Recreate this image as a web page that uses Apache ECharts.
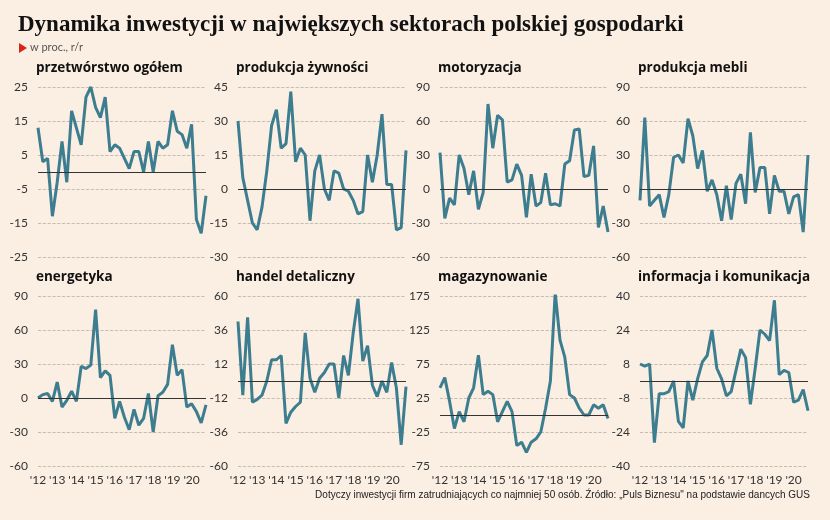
<!DOCTYPE html>
<html>
<head>
<meta charset="utf-8">
<title>Dynamika inwestycji</title>
<script src="https://cdn.jsdelivr.net/npm/echarts@6/dist/echarts.min.js"></script>
<style>
  body { margin: 0; background: #fbeee2; }
  #chart { width: 830px; height: 520px; }
</style>
</head>
<body>
<div id="chart"></div>
<script>
// kwartały 2012-2020
var quarters = [];
for (var y = 12; y <= 20; y++) for (var q = 1; q <= 4; q++) quarters.push("'" + y + (q === 1 ? '' : ' Q' + q));

var titles = ['przetwórstwo ogółem', 'produkcja żywności', 'motoryzacja', 'produkcja mebli',
              'energetyka', 'handel detaliczny', 'magazynowanie', 'informacja i komunikacja'];

var przetworstwo = [13, 3, 4, -13, -3, 9, -3, 18, 13, 8, 22, 25, 19, 16, 22, 6, 8, 7, 4, 1, 6, 6, 0, 9, 0, 9, 7, 8, 18, 12, 11, 7, 14, -14, -18, -7];
var zywnosc = [30, 5, -5, -15, -18, -8, 8, 28, 35, 18, 20, 43, 12, 18, 15, -14, 8, 15, 0, -5, 8, 7, 0, -1, -5, -11, -10, 15, 3, 15, 33, 2, 2, -18, -17, 17];
var motoryzacja = [32, -26, -8, -14, 30, 18, -5, 16, -18, -3, 75, 36, 65, 61, 6, 8, 22, 12, -25, 13, -15, -12, 14, -14, -13, -15, 22, 25, 52, 53, 11, 12, 38, -34, -15, -38];
var meble = [-10, 63, -15, -10, -5, -25, -5, 28, 30, 23, 62, 47, 18, 34, -2, 8, -5, -28, 3, -27, 5, 13, -13, 50, -3, 19, 19, -22, 12, -2, -2, -22, -7, -5, -38, 30];
var energetyka = [0, 3, 4, -3, 14, -8, -2, 6, -3, 28, 26, 29, 78, 18, 24, 20, -18, -3, -17, -28, -10, -24, -18, 4, -30, 2, 5, 12, 47, 20, 25, -8, -5, -12, -22, -6];
var handel = [42, -10, 45, -15, -13, -10, 0, 15, 15, 18, -30, -22, -18, -15, 34, 2, -8, 2, 6, 12, 12, -12, 18, 4, 34, 58, 14, 25, -3, -11, 0, -8, 13, -5, -45, -4];
var magazynowanie = [40, 55, 20, -20, 5, -10, 25, 40, 88, 30, 35, 30, -10, 5, 20, 5, -45, -40, -55, -40, -35, -25, 10, 50, 180, 110, 85, 30, 25, 10, 0, 0, 15, 10, 15, -5];
var informacja = [8, 7, 8, -29, -6, -6, -5, 0, -19, -22, 0, -9, 1, 9, 12, 24, 6, 1, -7, -5, 5, 15, 11, -11, 6, 24, 22, 19, 38, 3, 5, 4, -10, -9, -4, -14];

var seriesData = [przetworstwo, zywnosc, motoryzacja, meble, energetyka, handel, magazynowanie, informacja];
var yMin = [-25, -30, -60, -60, -60, -60, -75, -40];
var yMax = [25, 45, 90, 90, 90, 60, 175, 40];
var yStep = [10, 15, 30, 30, 30, 24, 50, 16];

var lefts = [38, 238, 440, 640];
var tops = [87, 296];

var grid = [], xAxis = [], yAxis = [], series = [], graphic = [];
for (var i = 0; i < 8; i++) {
  var col = i % 4, row = Math.floor(i / 4);
  grid.push({ left: lefts[col], top: tops[row], width: 168, height: 170 });
  xAxis.push({
    gridIndex: i, type: 'category', data: quarters, boundaryGap: false,
    axisLine: { show: false }, axisTick: { show: false }, splitLine: { show: false },
    axisLabel: {
      show: row === 1, interval: 0, color: '#333', fontSize: 12, margin: 8,
      fontFamily: 'Lato',
      formatter: function (v, idx) { return idx % 4 === 0 ? v : ''; }
    }
  });
  yAxis.push({
    gridIndex: i, type: 'value', min: yMin[i], max: yMax[i], interval: yStep[i],
    axisLine: { show: false }, axisTick: { show: false },
    axisLabel: { color: '#333', fontSize: 12, margin: 10, fontFamily: 'Lato' },
    splitLine: { lineStyle: { color: '#b8b0a8', type: 'dashed', width: 0.8 } }
  });
  series.push({
    type: 'line', xAxisIndex: i, yAxisIndex: i, data: seriesData[i],
    symbol: 'none', lineStyle: { color: '#3d7d90', width: 3 },
    markLine: {
      silent: true, symbol: 'none', label: { show: false },
      lineStyle: { color: '#333', type: 'solid', width: 1 },
      data: [{ yAxis: 0 }]
    }
  });
  graphic.push({
    type: 'text', left: lefts[col] - 2, top: tops[row] - 26,
    style: { text: titles[i], fill: '#111', font: 'bold 13.5px "Open Sans"' }
  });
}

graphic.push({
  type: 'text', left: 18, top: 14,
  style: { text: 'Dynamika inwestycji w największych sektorach polskiej gospodarki', fill: '#111', font: 'bold 23px "Liberation Serif"' }
});
graphic.push({
  type: 'polygon', shape: { points: [[19, 43], [19, 53], [27, 48]] }, style: { fill: '#d7261e' }
});
graphic.push({
  type: 'text', left: 30, top: 42,
  style: { text: 'w proc., r/r', fill: '#555', font: '11px Lato' }
});
graphic.push({
  type: 'text', right: 20, top: 490,
  style: { text: 'Dotyczy inwestycji firm zatrudniających co najmniej 50 osób. Źródło: „Puls Biznesu" na podstawie dancych GUS', fill: '#222', font: '10px "Liberation Sans Narrow", "Liberation Sans"' }
});

var chart = echarts.init(document.getElementById('chart'));
chart.setOption({
  backgroundColor: '#fbeee2',
  animation: false,
  grid: grid, xAxis: xAxis, yAxis: yAxis, series: series, graphic: graphic
});
</script>
</body>
</html>
